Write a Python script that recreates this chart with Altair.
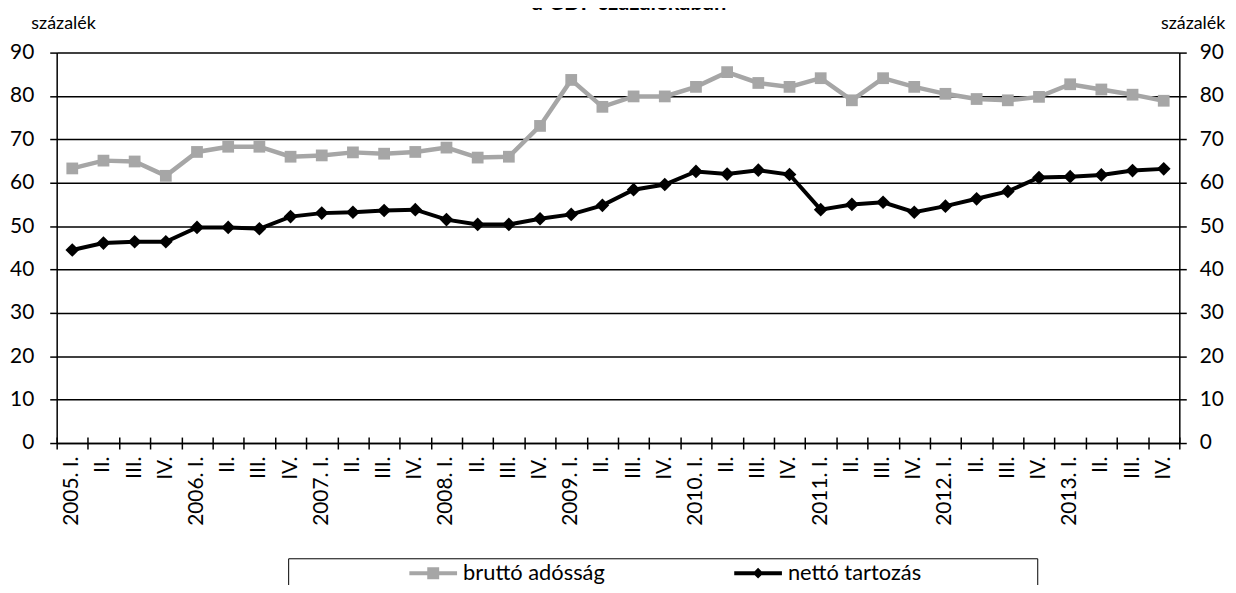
import altair as alt
import pandas as pd

years = [2005, 2006, 2007, 2008, 2009, 2010, 2011, 2012, 2013]
quarters = ["I.", "II.", "III.", "IV."]
periods = [f"{y}. {q}" for y in years for q in quarters]

brutto = [63.3, 65.1, 64.9, 61.6, 67.1, 68.3, 68.3, 66.0, 66.3, 67.0, 66.7, 67.1,
          68.1, 65.8, 66.0, 73.1, 83.7, 77.5, 79.9, 79.9, 82.1, 85.5, 83.0, 82.1,
          84.1, 79.0, 84.1, 82.1, 80.5, 79.3, 79.0, 79.8, 82.7, 81.5, 80.3, 78.9]
netto = [44.5, 46.1, 46.4, 46.4, 49.7, 49.7, 49.4, 52.2, 53.0, 53.2, 53.6, 53.8,
         51.5, 50.4, 50.4, 51.7, 52.7, 54.8, 58.4, 59.6, 62.6, 62.0, 62.9, 61.9,
         53.8, 55.0, 55.5, 53.2, 54.6, 56.3, 58.0, 61.2, 61.4, 61.8, 62.8, 63.2]
series_names = ["bruttó adósság", "nettó tartozás"]
colors = ["#A6A6A6", "#000000"]
title_text = "a GDP százalékában"
unit_label = "százalék"

rows = []
for p, b, n in zip(periods, brutto, netto):
    rows.append({"period": p, "value": b, "series": series_names[0]})
    rows.append({"period": p, "value": n, "series": series_names[1]})
df = pd.DataFrame(rows)

xscale = alt.Scale(type="band", domain=periods, paddingInner=0, paddingOuter=0)
yscale = alt.Scale(domain=[0, 90], nice=False, zero=True)

x_labels = alt.X("period:N", scale=xscale, axis=alt.Axis(
    orient="bottom", title=None, ticks=False, domain=True, domainColor="black",
    domainWidth=1.5, labelAngle=-90, labelAlign="right", labelBaseline="middle",
    labelFontSize=21, labelPadding=13, labelColor="black", grid=False,
    labelExpr="indexof(datum.label, ' I.') >= 0 ? datum.label : split(datum.label, ' ')[1]"))
x_ticks = alt.X("period:N", scale=xscale, axis=alt.Axis(
    orient="bottom", title=None, labels=False, domain=False, ticks=True,
    tickBand="extent", tickSize=12, tickWidth=1.5, tickColor="black", offset=-6,
    grid=False))
x_none = alt.X("period:N", scale=xscale, axis=None)

y_left = alt.Y("value:Q", scale=yscale, axis=alt.Axis(
    orient="left", values=list(range(0, 91, 10)), grid=True, gridColor="black",
    gridWidth=1.5, gridOpacity=1, domainColor="black", domainWidth=1.5,
    tickColor="black", tickSize=7, tickWidth=1.5, labelFontSize=21, labelPadding=16,
    labelColor="black", title=unit_label, titleAngle=0, titleX=-26, titleY=-29,
    titleAlign="left", titleBaseline="middle", titleFontSize=18,
    titleFontWeight="normal", titleColor="black"))
y_right = alt.Y("value:Q", scale=yscale, axis=alt.Axis(
    orient="right", values=list(range(0, 91, 10)), grid=False, domainColor="black",
    domainWidth=1.5, tickColor="black", tickSize=7, tickWidth=1.5, labelFontSize=21,
    labelPadding=13, labelColor="black", title=unit_label, titleAngle=0, titleX=-19,
    titleY=-29, titleAlign="left", titleBaseline="middle", titleFontSize=18,
    titleFontWeight="normal", titleColor="black"))
y_none = alt.Y("value:Q", scale=yscale, axis=None)

base = alt.Chart(df)
sel_b = f"datum.series == '{series_names[0]}'"
sel_n = f"datum.series == '{series_names[1]}'"

line_b = base.transform_filter(sel_b).mark_line(color=colors[0], strokeWidth=4.5).encode(
    x=x_labels, y=y_left)
line_n = base.transform_filter(sel_n).mark_line(color=colors[1], strokeWidth=4).encode(
    x=x_none, y=y_none)
pts_b = base.transform_filter(sel_b).mark_point(
    shape="square", filled=True, size=140, color=colors[0], opacity=1).encode(
    x=x_ticks, y=y_right)
pts_n = base.transform_filter(sel_n).mark_point(
    shape="diamond", filled=True, size=190, color=colors[1], opacity=1).encode(
    x=x_none, y=y_none)

sym_sq = "M-4,-0.33L4,-0.33L4,0.33L-4,0.33Z M-1,-1L1,-1L1,1L-1,1Z"
sym_di = "M-4,-0.33L4,-0.33L4,0.33L-4,0.33Z M0,-0.9L0.9,0L0,0.9L-0.9,0Z"

pad_chars = "\u2800" * 7

legend = alt.Legend(
    orient="none", legendX=233, legendY=509, direction="horizontal",
    title="\u00a0", titleOrient="left", titlePadding=131, titleFontSize=2,
    padding=4, strokeColor="black", fillColor="white",
    labelFontSize=22, labelColor="black", labelOffset=19, columnPadding=130,
    symbolSize=144, symbolStrokeWidth=0, symbolOpacity=1, labelLimit=600,
    labelExpr=f"datum.label == '{series_names[1]}' ? datum.label + '{pad_chars}' : datum.label")

leg = base.transform_filter("false").mark_point(filled=True, size=144, opacity=1).encode(
    x=x_none, y=y_none,
    color=alt.Color("series:N", scale=alt.Scale(domain=series_names, range=colors), legend=legend),
    shape=alt.Shape("series:N", scale=alt.Scale(domain=series_names, range=[sym_sq, sym_di]), legend=legend))

chart = alt.layer(line_b, line_n, pts_b, pts_n, leg).resolve_axis(
    x="independent", y="independent"
).properties(
    width=1130, height=393,
    title=alt.TitleParams(title_text, fontSize=22, fontWeight="bold", anchor="middle",
                          offset=0, dx=11, color="black"),
    autosize=alt.AutoSizeParams(type="none"),
    padding={"left": 49, "top": 43, "right": 49, "bottom": 141},
).configure(font="Lato").configure_view(stroke=None)

chart.save("out.html", embed_options={"renderer": "svg", "actions": False})
